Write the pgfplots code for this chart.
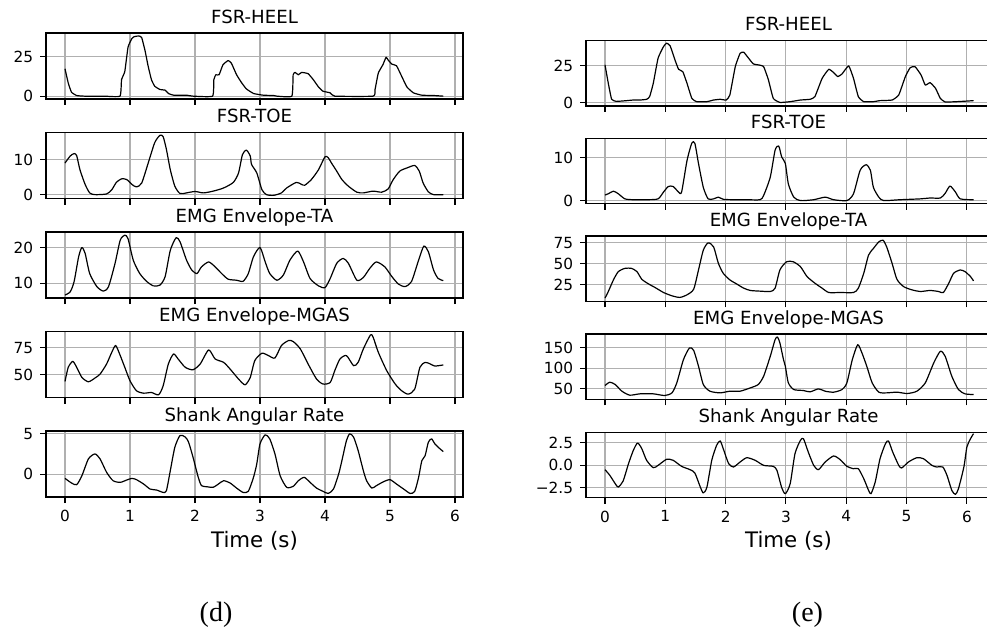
\documentclass[border=0pt]{standalone}
\usepackage{fontspec}
\setmainfont{DejaVu Sans}
\newfontfamily\capfont{Liberation Serif}
\usepackage{pgfplots}
\pgfplotsset{compat=1.18}

\definecolor{gridgray}{RGB}{176,176,176}

\pgfplotsset{
  every axis title shift=0pt,
  panel/.style={
    scale only axis,
    anchor=north west,
    xtick={0,1,2,3,4,5,6},
    xticklabels={},
    xtick pos=bottom, ytick pos=left,
    tick align=outside,
    major tick length=4.5pt,
    tick style={black, line width=0.8pt},
    axis line style={black, line width=1pt},
    grid=major,
    major grid style={gridgray, line width=0.8pt},
    yticklabel style={anchor=east, inner sep=0pt, xshift=-5pt, font=\fontsize{11.5}{13}\selectfont},
    xticklabel style={anchor=north, inner sep=0pt, yshift=-5pt, font=\fontsize{11.5}{13}\selectfont},
    title style={at={(axis description cs:0.5,1)}, anchor=base, yshift=7.5pt, inner sep=0pt, font=\fontsize{13.6}{16}\selectfont},
    xlabel style={at={(axis description cs:0.5,0)}, anchor=base, yshift=-37.5pt, inner sep=0pt, font=\fontsize{16}{19}\selectfont},
  },
  leftcol/.style={panel, width=312.75pt, height=49.5pt, xmin=-0.2923, xmax=6.123},
  rightcol/.style={panel, width=303.75pt, height=49.1pt, xmin=-0.315, xmax=6.40},
  bottomrow/.style={xticklabels={0,1,2,3,4,5,6}, xlabel={Time (s)}},
  trace/.style={black, line width=0.9pt, mark=none, line join=round, smooth, tension=0.4},
  steptrace/.style={black, line width=0.9pt, mark=none, line join=round, smooth, tension=0.25},
}

\begin{document}
\begin{tikzpicture}
\path[use as bounding box] (0,0) rectangle (740.25pt,-474pt);
\clip (0,0) rectangle (740.25pt,-474pt);

% ---------------- left column (d) ----------------
\begin{axis}[leftcol, at={(34.5pt,-24.75pt)}, title={FSR-HEEL},
  ymin=-1.8, ymax=39.9, ytick={0,25}, yticklabels={0,25}]
\addplot[steptrace] coordinates {(0,17.3)(0.05,8.3)(0.1,2.5)(0.18,0.4)(0.3,0)(0.6,0)(0.846,0)(0.87,10.4)(0.92,15.6)(0.97,31)(1.03,36.5)(1.06,37.5)(1.10,37.9)(1.14,38.0)(1.18,37)(1.23,29)(1.28,18.8)(1.33,10.4)(1.38,6.3)(1.46,4.2)(1.54,3.8)(1.59,1.7)(1.67,0.6)(1.87,0.6)(1.97,0)(2.27,0)(2.29,10.4)(2.32,13.5)(2.37,13.5)(2.43,19.8)(2.51,22.5)(2.56,20.8)(2.64,13.5)(2.72,8.3)(2.79,4.6)(2.90,1.7)(3.05,0.6)(3.21,0.4)(3.26,0)(3.49,0)(3.51,13.5)(3.54,15)(3.59,13.5)(3.64,15)(3.74,14.2)(3.82,10.4)(3.90,5.8)(3.97,3.1)(4.08,2.1)(4.15,0)(4.74,0)(4.77,4.2)(4.82,14.6)(4.89,19.8)(4.94,24.6)(4.97,22.9)(5.03,20.2)(5.10,19.2)(5.18,12.5)(5.26,5.8)(5.36,2.1)(5.49,0.6)(5.67,0.4)(5.82,0)};
\end{axis}

\begin{axis}[leftcol, at={(34.5pt,-99.375pt)}, title={FSR-TOE},
  ymin=-1.1, ymax=17.7, ytick={0,10}, yticklabels={0,10}]
\addplot[trace] coordinates {(0,9.0)(0.08,11.0)(0.14,11.7)(0.18,11.1)(0.23,7.1)(0.31,2.9)(0.38,0.5)(0.46,0)(0.64,0.2)(0.72,1.4)(0.79,3.5)(0.87,4.5)(0.95,4.3)(1.03,2.9)(1.10,2.2)(1.18,3.3)(1.28,9.0)(1.38,14.8)(1.46,16.9)(1.51,16.5)(1.56,12.9)(1.62,7.1)(1.69,2.4)(1.77,0.3)(1.87,0.5)(2.0,0.9)(2.13,0.5)(2.28,1.0)(2.44,1.9)(2.59,3.5)(2.67,6.2)(2.73,11.4)(2.79,12.7)(2.85,11.0)(2.87,8.6)(2.95,6.2)(3.03,1.4)(3.10,0)(3.21,-0.2)(3.33,0.5)(3.41,1.9)(3.56,3.5)(3.64,2.9)(3.69,2.7)(3.79,4.3)(3.90,7.1)(4.0,10.8)(4.05,10.5)(4.10,9.0)(4.18,6.7)(4.26,4.3)(4.36,2.4)(4.49,0.7)(4.59,0.5)(4.74,1.0)(4.87,0.7)(4.97,1.6)(5.05,4.3)(5.15,6.7)(5.26,7.6)(5.38,8.3)(5.45,6.7)(5.51,3.3)(5.59,0.8)(5.67,0)(5.82,0)};
\end{axis}

\begin{axis}[leftcol, at={(34.5pt,-174pt)}, title={EMG Envelope-TA},
  ymin=5.75, ymax=24.5, ytick={10,20}, yticklabels={10,20}]
\addplot[trace] coordinates {(0,6.6)(0.08,7.5)(0.14,10.4)(0.21,17.5)(0.26,20.1)(0.31,18.4)(0.38,12.7)(0.49,9.0)(0.59,7.7)(0.67,9.0)(0.77,15.6)(0.85,22.2)(0.92,23.6)(0.97,22.6)(1.05,16.5)(1.15,12.7)(1.26,10.4)(1.36,9.2)(1.46,9.4)(1.54,11.8)(1.62,19.3)(1.71,22.9)(1.77,21.7)(1.87,16.5)(1.95,13.7)(2.03,12.7)(2.10,14.6)(2.21,16.0)(2.31,14.6)(2.41,12.7)(2.51,11.1)(2.64,10.8)(2.74,10.5)(2.82,12.7)(2.90,17.5)(3.0,20.1)(3.08,16.0)(3.15,12.7)(3.26,10.8)(3.36,12.3)(3.46,16.5)(3.58,19.1)(3.67,16.0)(3.77,11.3)(3.90,9.2)(4.0,8.7)(4.08,11.3)(4.18,15.6)(4.28,17.0)(4.36,15.6)(4.49,10.8)(4.59,11.6)(4.69,14.2)(4.79,16.0)(4.92,14.6)(5.03,11.8)(5.13,9.7)(5.23,9.0)(5.33,10.4)(5.44,16.5)(5.52,20.5)(5.59,18.9)(5.67,13.7)(5.74,11.3)(5.82,10.7)};
\end{axis}

\begin{axis}[leftcol, at={(34.5pt,-248.625pt)}, title={EMG Envelope-MGAS},
  ymin=29, ymax=89.8, ytick={50,75}, yticklabels={50,75}]
\addplot[trace] coordinates {(0,43.8)(0.05,56.8)(0.12,62.3)(0.18,56.8)(0.26,47.5)(0.36,43.5)(0.46,46.9)(0.54,50.6)(0.64,59.9)(0.72,70.7)(0.78,76.9)(0.85,67.6)(0.92,56.8)(1.0,44.4)(1.10,35.2)(1.21,33.0)(1.33,33.6)(1.44,31.5)(1.51,39.8)(1.59,59.9)(1.67,69.1)(1.74,64.5)(1.85,56.8)(1.97,54.6)(2.08,59.9)(2.21,72.8)(2.31,64.5)(2.44,61.4)(2.54,55.2)(2.67,46.0)(2.77,40.7)(2.85,47.5)(2.92,63.0)(3.03,69.8)(3.13,67.6)(3.23,65.4)(3.33,76.9)(3.44,81.5)(3.51,80.6)(3.62,73.8)(3.74,59.9)(3.87,46.0)(3.97,41.4)(4.08,42.9)(4.15,53.7)(4.23,64.5)(4.33,67.6)(4.44,58.3)(4.51,61.4)(4.59,73.8)(4.70,86.7)(4.74,84.6)(4.82,70.7)(4.95,53.7)(5.08,41.4)(5.18,35.2)(5.28,32.1)(5.38,36.7)(5.46,56.8)(5.54,61.4)(5.62,59.9)(5.69,58.0)(5.82,59.0)};
\end{axis}

\begin{axis}[leftcol, bottomrow, at={(34.5pt,-323.25pt)}, title={Shank Angular Rate},
  ymin=-2.8, ymax=5.35, ytick={0,5}, yticklabels={0,5}]
\addplot[trace] coordinates {(0,-0.5)(0.10,-1.07)(0.18,-1.28)(0.26,-0.17)(0.36,1.9)(0.46,2.52)(0.54,1.9)(0.64,0.25)(0.74,-0.79)(0.85,-0.99)(0.95,-0.7)(1.03,-0.5)(1.10,-0.66)(1.21,-1.2)(1.31,-1.82)(1.41,-1.94)(1.51,-2.23)(1.56,-2.02)(1.62,0.45)(1.69,3.35)(1.77,4.8)(1.85,4.6)(1.90,4.0)(1.97,2.1)(2.05,-0.37)(2.10,-1.4)(2.18,-1.53)(2.28,-1.6)(2.36,-1.2)(2.44,-0.79)(2.54,-1.07)(2.64,-1.7)(2.74,-2.23)(2.82,-2.1)(2.90,-0.37)(2.95,1.28)(3.0,3.76)(3.08,4.88)(3.15,4.38)(3.23,2.52)(3.31,-0.17)(3.41,-1.6)(3.51,-1.49)(3.59,-0.79)(3.68,-0.37)(3.77,-0.99)(3.87,-1.7)(3.97,-2.1)(4.05,-2.36)(4.13,-1.82)(4.21,0.04)(4.26,1.7)(4.33,4.17)(4.38,5.0)(4.44,4.59)(4.51,2.93)(4.59,0.45)(4.64,-0.79)(4.72,-1.7)(4.79,-1.4)(4.90,-0.91)(5.0,-0.66)(5.10,-1.2)(5.21,-1.82)(5.31,-2.36)(5.38,-2.1)(5.44,-0.37)(5.49,1.7)(5.54,2.3)(5.59,3.97)(5.64,4.38)(5.69,3.76)(5.77,3.14)(5.82,2.81)};
\end{axis}

% ---------------- right column (e) ----------------
\begin{axis}[rightcol, at={(439.5pt,-30.375pt)}, title={FSR-HEEL},
  ymin=-2.2, ymax=41.9, ytick={0,25}, yticklabels={0,25}]
\addplot[steptrace] coordinates {(0,25.5)(0.055,13)(0.11,2.3)(0.19,0.9)(0.36,1.4)(0.47,1.8)(0.58,1.8)(0.69,2.3)(0.74,4.1)(0.80,13)(0.88,30)(0.97,37.8)(1.02,40.1)(1.08,38.3)(1.16,28.8)(1.22,22.5)(1.29,20.9)(1.36,13)(1.44,2.9)(1.52,0.7)(1.69,0.7)(1.80,1.8)(1.91,2.3)(2.01,1.8)(2.07,5.2)(2.16,24.3)(2.24,33.3)(2.30,34)(2.38,30)(2.46,26.1)(2.54,25.5)(2.63,24.3)(2.71,15.3)(2.79,2.9)(2.90,0.2)(3.07,0.7)(3.24,1.8)(3.40,2.3)(3.48,4.1)(3.60,16.4)(3.71,22.5)(3.79,20.3)(3.86,17.6)(3.93,19.4)(4.04,24.8)(4.12,16.4)(4.20,4.1)(4.29,0.7)(4.45,0.7)(4.56,1.4)(4.76,1.8)(4.87,5.2)(4.98,17.6)(5.06,23.6)(5.14,24.3)(5.24,18.7)(5.31,11.9)(5.39,13.5)(5.48,9.7)(5.56,2.9)(5.64,0.5)(5.83,0.7)(6.0,1.1)(6.11,1.4)};
\end{axis}

\begin{axis}[rightcol, at={(439.5pt,-103.725pt)}, title={FSR-TOE},
  ymin=-0.75, ymax=14.6, ytick={0,10}, yticklabels={0,10}]
\addplot[trace] coordinates {(0,1.3)(0.055,1.6)(0.14,2.2)(0.22,1.6)(0.33,0.4)(0.47,0.2)(0.69,0.2)(0.88,0.4)(0.97,2.0)(1.05,3.3)(1.13,3.3)(1.22,2.0)(1.27,2.0)(1.36,9.4)(1.44,13.5)(1.49,13.4)(1.55,8.7)(1.63,3.1)(1.71,0.4)(1.80,0.4)(1.88,0.8)(1.96,0.3)(2.13,0.2)(2.35,0.2)(2.57,0.2)(2.63,1.2)(2.74,5.5)(2.82,11.8)(2.88,12.8)(2.93,10.2)(2.99,8.7)(3.04,3.9)(3.13,0.8)(3.24,0)(3.46,0.2)(3.65,0.8)(3.79,0.2)(4.01,0)(4.12,1.6)(4.23,7.1)(4.33,8.4)(4.40,7.1)(4.45,3.1)(4.54,0.8)(4.62,0)(4.89,0.2)(5.23,0.4)(5.39,0.6)(5.56,0.6)(5.64,1.7)(5.72,3.4)(5.81,2.0)(5.89,0.4)(6.11,0.2)};
\end{axis}

\begin{axis}[rightcol, at={(439.5pt,-177pt)}, title={EMG Envelope-TA},
  ymin=5.4, ymax=82.7, ytick={25,50,75}, yticklabels={25,50,75}]
\addplot[trace] coordinates {(0,9.4)(0.055,17.2)(0.14,30.9)(0.22,40.6)(0.33,44.5)(0.44,44.5)(0.53,40.6)(0.61,31.6)(0.72,26.2)(0.83,21.9)(0.97,16.0)(1.11,12.1)(1.24,10.2)(1.36,13.3)(1.47,19.9)(1.55,42.6)(1.63,66.0)(1.71,74.6)(1.80,69.9)(1.88,50.4)(1.96,38.7)(2.07,30.9)(2.18,26.2)(2.30,21.1)(2.41,18.4)(2.57,17.6)(2.74,17.2)(2.82,21.1)(2.90,42.6)(3.01,52.3)(3.12,52.3)(3.24,46.5)(3.35,34.8)(3.48,27.0)(3.60,21.1)(3.71,16.0)(3.90,16.0)(4.12,16.0)(4.20,21.1)(4.29,38.7)(4.37,60.2)(4.45,68.0)(4.54,75.8)(4.61,77.7)(4.67,69.9)(4.76,50.4)(4.84,31.6)(4.95,23.0)(5.09,19.1)(5.23,17.2)(5.39,18.4)(5.53,17.2)(5.61,16.0)(5.70,27.0)(5.78,38.7)(5.89,42.6)(5.97,40.6)(6.06,34.8)(6.11,29.7)};
\end{axis}

\begin{axis}[rightcol, at={(439.5pt,-250.5pt)}, title={EMG Envelope-MGAS},
  ymin=23, ymax=184.4, ytick={50,100,150}, yticklabels={50,100,150}]
\addplot[trace] coordinates {(0,57.4)(0.08,65.6)(0.17,59.8)(0.28,43.4)(0.41,33.6)(0.58,36.9)(0.80,36.9)(0.99,32.8)(1.11,39.3)(1.19,63.9)(1.30,121)(1.40,150)(1.47,144)(1.55,105)(1.63,59.8)(1.74,43.4)(1.91,39.3)(2.07,43.4)(2.24,43.4)(2.41,51.6)(2.54,59.8)(2.63,80.3)(2.74,129.5)(2.82,170.5)(2.86,177)(2.90,162)(2.96,121)(2.99,105)(3.04,63.9)(3.13,47.5)(3.29,45.1)(3.40,41.8)(3.54,49.2)(3.65,43.4)(3.79,41.0)(3.93,47.5)(4.01,63.9)(4.10,121)(4.19,158)(4.26,137.7)(4.34,105)(4.43,63.9)(4.54,41.0)(4.67,39.3)(4.84,41.0)(5.01,37.7)(5.17,43.4)(5.31,63.9)(5.45,113)(5.56,141.8)(5.64,129.5)(5.75,80.3)(5.86,47.5)(5.97,36.9)(6.11,35.2)};
\end{axis}

\begin{axis}[rightcol, bottomrow, at={(439.5pt,-324.225pt)}, title={Shank Angular Rate},
  ymin=-3.62, ymax=3.65, ytick={-2.5,0,2.5}, yticklabels={−2.5,0.0,2.5}]
\addplot[trace] coordinates {(0,-0.5)(0.08,-1.13)(0.17,-2.06)(0.22,-2.43)(0.30,-1.76)(0.39,0.17)(0.47,1.65)(0.54,2.46)(0.61,1.83)(0.69,0.54)(0.80,-0.28)(0.88,-0.02)(1.02,0.65)(1.13,0.54)(1.27,-0.13)(1.41,-0.5)(1.49,-0.87)(1.58,-2.43)(1.63,-3.09)(1.69,-2.43)(1.77,0.54)(1.85,2.2)(1.91,2.69)(1.97,1.65)(2.05,0.17)(2.13,-0.2)(2.24,0.35)(2.35,0.83)(2.49,0.54)(2.63,-0.02)(2.79,-0.13)(2.85,-0.57)(2.93,-2.5)(2.99,-3.17)(3.07,-2.06)(3.15,1.28)(3.24,2.76)(3.29,2.94)(3.37,1.46)(3.46,-0.02)(3.54,-0.5)(3.65,0.35)(3.79,1.02)(3.90,0.61)(4.01,-0.13)(4.12,-0.39)(4.20,-0.39)(4.29,-1.5)(4.37,-2.8)(4.41,-3.17)(4.48,-1.87)(4.56,0.72)(4.65,2.39)(4.70,2.69)(4.77,1.46)(4.87,-0.02)(4.92,-0.31)(5.03,0.35)(5.17,0.83)(5.28,0.72)(5.42,-0.02)(5.50,-0.2)(5.60,-0.2)(5.67,-1.13)(5.75,-2.8)(5.81,-3.24)(5.86,-2.61)(5.95,-0.2)(6.0,2.02)(6.06,2.94)(6.11,3.5)};
\end{axis}

% panel captions
\node[font=\capfont\fontsize{21}{24}\selectfont] at (162pt,-461.25pt) {(d)};
\node[font=\capfont\fontsize{21}{24}\selectfont] at (605.6pt,-461.25pt) {(e)};
\end{tikzpicture}
\end{document}
